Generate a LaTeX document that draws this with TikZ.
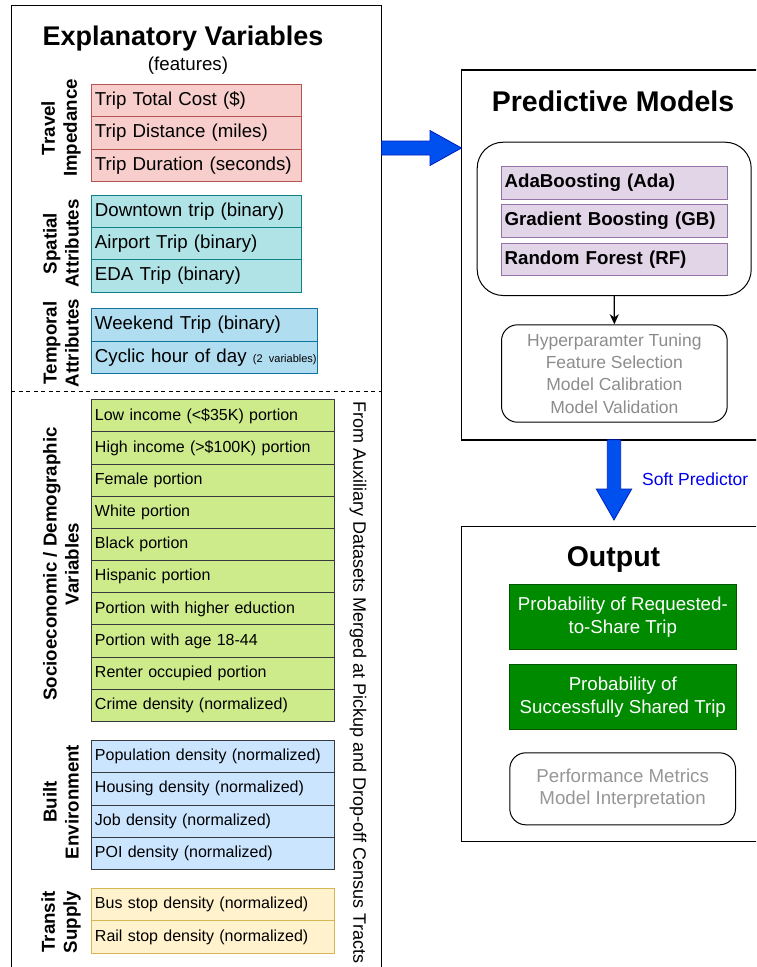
\documentclass[tikz,border=0pt]{standalone}
\usepackage{fontspec}
\setmainfont{Liberation Sans}
\usetikzlibrary{arrows.meta}
\definecolor{redF}{HTML}{F8CECC}\definecolor{redS}{HTML}{B85450}
\definecolor{tealF}{HTML}{B0E3E6}\definecolor{tealS}{HTML}{0E8088}
\definecolor{tempF}{HTML}{B1DDF0}\definecolor{tempS}{HTML}{10739E}
\definecolor{grnF}{HTML}{CDEB8B}\definecolor{darkS}{HTML}{36393D}
\definecolor{bldF}{HTML}{CCE5FF}
\definecolor{yelF}{HTML}{FFF2CC}\definecolor{yelS}{HTML}{D6B656}
\definecolor{purF}{HTML}{E1D5E7}\definecolor{purS}{HTML}{9673A6}
\definecolor{outF}{HTML}{008A00}\definecolor{outS}{HTML}{005700}
\definecolor{arrF}{HTML}{0050EF}\definecolor{arrS}{HTML}{001DBC}
\definecolor{softblue}{RGB}{0,0,235}
\definecolor{grayT}{RGB}{140,140,140}
\definecolor{grayU}{RGB}{150,150,150}
\newcommand\fsz[2]{\fontsize{#1}{#2}\selectfont}
\begin{document}
\begin{tikzpicture}[x=1pt,y=-1pt,
  cell/.style={draw, anchor=north west, inner xsep=3.5pt, inner ysep=0pt, align=left, line width=0.9pt},
  bigcell/.style={cell, font=\fsz{18.7}{22}},
  smallcell/.style={cell, font=\fsz{16}{19}},
  redcell/.style={bigcell, fill=redF, draw=redS, text width=203pt, minimum height=32.5},
  tealcell/.style={bigcell, fill=tealF, draw=tealS, text width=203pt, minimum height=32.2},
  tempcell/.style={bigcell, fill=tempF, draw=tempS, text width=219pt, minimum height=32.5},
  grncell/.style={smallcell, fill=grnF, draw=darkS, text width=235.5pt, minimum height=32.17},
  bldcell/.style={smallcell, fill=bldF, draw=darkS, text width=235.5pt, minimum height=32.25},
  yelcell/.style={smallcell, fill=yelF, draw=yelS, text width=235.5pt, minimum height=32.5},
  purcell/.style={cell, font=\bfseries\fsz{18.7}{22}, fill=purF, draw=purS, text width=219.6pt, minimum height=32.5},
  panel/.style={draw, line width=1.2pt, anchor=north west, inner sep=0pt},
  sidelab/.style={rotate=90, align=center, font=\bfseries\fsz{18.7}{22}, inner sep=0pt},
  titlelab/.style={anchor=base, font=\bfseries\fsz{28.5}{32}, inner sep=0pt},
  roundbox/.style={draw, line width=1pt, anchor=north west, inner sep=0pt, align=center},
  greenbox/.style={draw=outS, fill=outF, line width=0.9pt, anchor=north west, inner sep=0pt, align=center, text=white, font=\fsz{18.7}{23}},
  blockarrow/.style={fill=arrF, draw=arrS, line width=0.8pt, line join=miter}
]
\useasboundingbox (0,0) rectangle (756,967);
\clip (0,0) rectangle (756,967);

% ---------------- left panel ----------------
\node[panel, minimum width=370, minimum height=990] (left) at (11,5) {};
\node[anchor=base, font=\bfseries\fsz{27}{30}, inner sep=0pt] (ltitle) at (183,45.5) {Explanatory Variables};
\node[anchor=base, font=\fsz{18.7}{22}, inner sep=0pt] (lsub) at (188,70) {(features)};

% travel impedance
\node[redcell] (ti1) at (91,83.5) {Trip Total Cost (\$)};
\node[redcell] (ti2) at (91,116) {Trip Distance (miles)};
\node[redcell] (ti3) at (91,148.5) {Trip Duration (seconds)};
\node[sidelab] (tiL) at (61,128) {Travel\\Impedance};

% spatial
\node[tealcell] (sa1) at (91,195) {Downtown trip (binary)};
\node[tealcell] (sa2) at (91,227.2) {Airport Trip (binary)};
\node[tealcell] (sa3) at (91,259.4) {EDA Trip (binary)};
\node[sidelab] (saL) at (61,243.5) {Spatial\\Attributes};

% temporal
\node[tempcell] (ta1) at (91,308.3) {Weekend Trip (binary)};
\node[tempcell] (ta2) at (91,340.8) {\mbox{Cyclic hour of day {\fsz{11}{13}(2 variables)}}};
\node[sidelab] (taL) at (61,343) {Temporal\\Attributes};

% dashed separator
\coordinate (dl) at (11,391);
\coordinate (dr) at (381,391);
\draw[line width=1pt, dash pattern=on 4pt off 3.5pt] (dl) -- (dr);

% socioeconomic
\node[grncell] (se1) at (91,399.3) {Low income (<\$35K) portion};
\node[grncell] (se2) at (91,431.47) {High income (>\$100K) portion};
\node[grncell] (se3) at (91,463.64) {Female portion};
\node[grncell] (se4) at (91,495.81) {White portion};
\node[grncell] (se5) at (91,527.98) {Black portion};
\node[grncell] (se6) at (91,560.15) {Hispanic portion};
\node[grncell] (se7) at (91,592.32) {Portion with higher eduction};
\node[grncell] (se8) at (91,624.49) {Portion with age 18-44};
\node[grncell] (se9) at (91,656.66) {Renter occupied portion};
\node[grncell] (se10) at (91,688.83) {Crime density (normalized)};
\node[sidelab] (seL) at (61,564) {Socioeconomic / Demographic\\Variables};

% built environment
\node[bldcell] (be1) at (91,740) {Population density (normalized)};
\node[bldcell] (be2) at (91,772.25) {Housing density (normalized)};
\node[bldcell] (be3) at (91,804.5) {Job density (normalized)};
\node[bldcell] (be4) at (91,836.75) {POI density (normalized)};
\node[sidelab] (beL) at (61,802) {Built\\Environment};

% transit supply
\node[yelcell] (ts1) at (91,887.7) {Bus stop density (normalized)};
\node[yelcell] (ts2) at (91,920.2) {Rail stop density (normalized)};
\node[sidelab] (tsL) at (61,922) {Transit\\Supply};

% vertical note
\node[rotate=-90, font=\fsz{18}{21}, inner sep=0pt] (aux) at (358,682.5) {From Auxiliary Datasets Merged at Pickup and Drop-off Census Tracts};

% ---------------- predictive models ----------------
\node[panel, minimum width=330, minimum height=370] (pbox) at (461,69.3) {};
\node[titlelab] (ptitle) at (613,111) {Predictive Models};
\node[roundbox, rounded corners=26, minimum width=274, minimum height=153.3] (ens) at (476.7,141.7) {};
\node[purcell] (m1) at (500.7,166) {AdaBoosting (Ada)};
\node[purcell] (m2) at (500.7,204) {Gradient Boosting (GB)};
\node[purcell] (m3) at (500.7,242.7) {Random Forest (RF)};
\node[roundbox, rounded corners=16, minimum width=225.7, minimum height=97.4, text=grayT, font=\fsz{17.5}{22.3}] (tune) at (501,324.3)
  {Hyperparamter Tuning\\Feature Selection\\Model Calibration\\Model Validation};
\draw[line width=1.3pt, -{Stealth[length=10pt,width=9pt,inset=3pt]}] (ens.south) -- (tune.north);

% ---------------- output ----------------
\node[panel, minimum width=330, minimum height=315.3] (obox) at (461,525.7) {};
\node[titlelab] (otitle) at (613.5,566.7) {Output};
\node[greenbox, minimum width=226.7, minimum height=64.7] (o1) at (509,584.3) {Probability of Requested-\\to-Share Trip};
\node[greenbox, minimum width=226.7, minimum height=65.3] (o2) at (509,664) {Probability of\\Successfully Shared Trip};
\node[roundbox, rounded corners=16, minimum width=225.7, minimum height=72, text=grayU, font=\fsz{18.7}{22}] (perf) at (509.3,752.3)
  {Performance Metrics\\Model Interpretation};

% ---------------- block arrows ----------------
\filldraw[blockarrow] (381.5,141) -- (430,141) -- (430,130.5) -- (461.5,148) -- (430,165.5) -- (430,155) -- (381.5,155) -- cycle;
\filldraw[blockarrow] (607.3,439.8) -- (620.7,439.8) -- (620.7,489) -- (631.7,489) -- (614,520) -- (596.3,489) -- (607.3,489) -- cycle;
\node[anchor=west, text=softblue, font=\fsz{17.5}{20}, inner sep=0pt] (soft) at (642,479) {Soft Predictor};
\end{tikzpicture}
\end{document}
